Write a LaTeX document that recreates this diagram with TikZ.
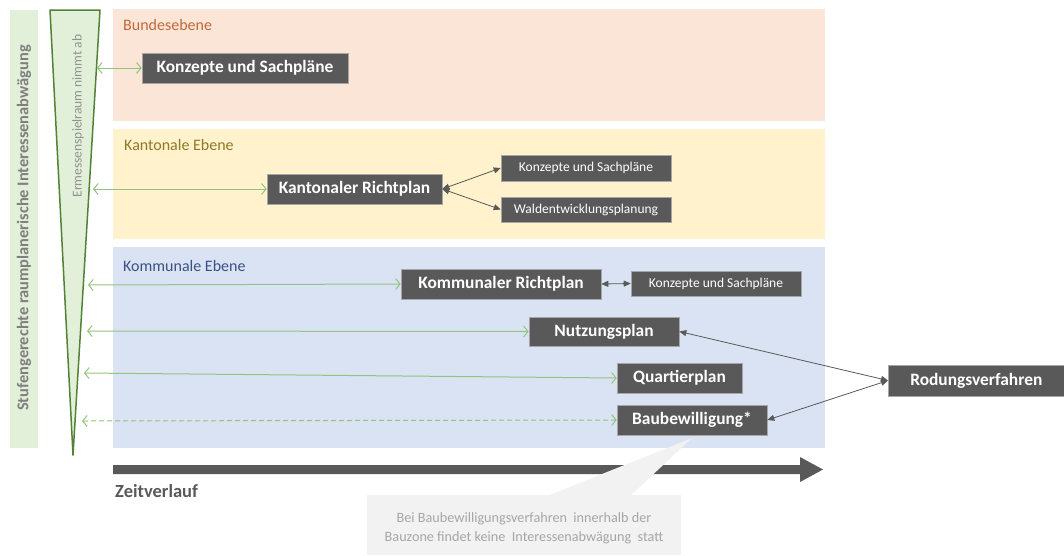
\documentclass[tikz,border=0pt]{standalone}
\usepackage{fontspec}
\setmainfont{Carlito}
\usetikzlibrary{arrows.meta}
\definecolor{bundfill}{HTML}{FBE5D6}
\definecolor{kantfill}{HTML}{FFF2CC}
\definecolor{kommfill}{HTML}{DAE3F3}
\definecolor{greenfill}{HTML}{E2F0D9}
\definecolor{greenstroke}{HTML}{548235}
\definecolor{greenarrow}{HTML}{93C47D}
\definecolor{boxgray}{HTML}{595959}
\definecolor{boxedge}{HTML}{A6A6A6}
\definecolor{bundtext}{HTML}{C0693A}
\definecolor{kanttext}{HTML}{8F7A22}
\definecolor{kommtext}{HTML}{3B5183}
\definecolor{sidetext}{HTML}{7F7F7F}
\definecolor{calloutfill}{HTML}{F2F2F2}
\definecolor{callouttext}{HTML}{A6A6A6}
\tikzset{
  bigbox/.style={fill=boxgray, draw=boxedge, line width=0.6pt, text=white, inner sep=0pt,
    font=\fontsize{17.4}{20}\selectfont\bfseries},
  smallbox/.style={fill=boxgray, draw=boxedge, line width=0.6pt, text=white, inner sep=0pt,
    font=\fontsize{13.5}{16}\selectfont},
  levellabel/.style={anchor=base west, inner sep=0pt, font=\fontsize{16}{18}\selectfont},
  greenlink/.style={draw=greenarrow, line width=1pt, {Straight Barb[length=4.5pt,width=11pt]}-{Straight Barb[length=4.5pt,width=11pt]}},
  graylink/.style={draw=boxgray, line width=0.8pt, {Triangle[length=7pt,width=6pt]}-{Triangle[length=7pt,width=6pt]}}
}
\begin{document}
\begin{tikzpicture}[x=1pt, y=-1pt]
\useasboundingbox (0,0) rectangle (1064,555);
% level backgrounds
\fill[bundfill] (113,9) rectangle (825,121);
\fill[kantfill] (113,129) rectangle (825,239);
\fill[kommfill] (113,247) rectangle (825,448);
\node[levellabel, text=bundtext] (lbund) at (123,30) {Bundesebene};
\node[levellabel, text=kanttext] (lkant) at (124,150) {Kantonale Ebene};
\node[levellabel, text=kommtext] (lkomm) at (123,271) {Kommunale Ebene};
% left bar
\fill[greenfill] (10,10) rectangle (38,448);
\node[rotate=90, text=sidetext, font=\fontsize{16.4}{19}\selectfont\bfseries, inner sep=0pt] (sidelabel) at (24,228) {Stufengerechte raumplanerische Interessenabwägung};
% triangle
\filldraw[fill=greenfill, draw=greenstroke, line width=1.5pt, line join=round] (50,10) -- (100,10) -- (73,455) -- cycle;
\node[rotate=90, text=sidetext!85, font=\fontsize{13.5}{16}\selectfont, inner sep=0pt] (trilabel) at (78,116) {Ermessenspielraum nimmt ab};
% boxes
\node[bigbox, minimum width=206pt, minimum height=30pt] (bkonz) at (245,68) {Konzepte und Sachpläne};
\node[bigbox, minimum width=175pt, minimum height=30pt] (krp) at (354.5,189) {Kantonaler Richtplan};
\node[smallbox, minimum width=170pt, minimum height=26pt] (kkonz) at (586,168) {Konzepte und Sachpläne};
\node[smallbox, minimum width=170pt, minimum height=25pt] (kwald) at (586,209.5) {Waldentwicklungsplanung};
\node[bigbox, minimum width=200pt, minimum height=30pt] (grp) at (501,284) {Kommunaler Richtplan};
\node[smallbox, minimum width=170pt, minimum height=25pt] (gkonz) at (716,283.5) {Konzepte und Sachpläne};
\node[bigbox, minimum width=150pt, minimum height=29pt] (nutz) at (604,331.5) {Nutzungsplan};
\node[bigbox, minimum width=125pt, minimum height=30pt] (quart) at (679.5,378) {Quartierplan};
\node[bigbox, minimum width=150pt, minimum height=30pt] (baub) at (692,420) {Baubewilligung*};
\node[bigbox, minimum width=176pt, minimum height=31pt, anchor=west] (rod) at (888,380.5) {Rodungsverfahren};
% green link start points on the triangle
\coordinate (g1) at (97,68);
\coordinate (g2) at (93,189);
\coordinate (g3) at (88,285);
\coordinate (g4) at (87,331);
\coordinate (g5) at (84,373);
\coordinate (g6) at (82,421);
\draw[greenlink] (g1) -- (bkonz.west);
\draw[greenlink] (g2) -- (krp.west);
\draw[greenlink] (g3) -- (grp.west);
\draw[greenlink] (g4) -- (nutz.west);
\draw[greenlink] (g5) -- (quart.west);
\draw[greenlink, dashed, dash pattern=on 5pt off 3pt] (g6) -- (baub.west);
% gray links
\draw[graylink] (krp.east) -- (kkonz.west);
\draw[graylink] (krp.east) -- (kwald.west);
\draw[graylink] (grp.east) -- (gkonz.west);
\draw[graylink] (rod.west) -- (nutz.east);
\draw[graylink] (rod.west) -- (baub.east);
% time arrow
\fill[boxgray] (113,465) -- (800,465) -- (800,457) -- (823,469.5) -- (800,482) -- (800,474) -- (113,474) -- cycle;
\node[anchor=base west, inner sep=0pt, text=boxgray, font=\fontsize{18.5}{20}\selectfont\bfseries] (zeit) at (115,497) {Zeitverlauf};
% callout
\fill[calloutfill] (367,495) rectangle (681,555);
\fill[calloutfill] (547,496) -- (692,438) -- (630,496) -- cycle;
\node[align=center, inner sep=0pt, text=callouttext, font=\fontsize{14.2}{19}\selectfont] (callout) at (524,528) {Bei Baubewilligungsverfahren\ \ innerhalb der\\Bauzone findet keine\ \ Interessenabwägung\ \ statt};
\end{tikzpicture}
\end{document}
